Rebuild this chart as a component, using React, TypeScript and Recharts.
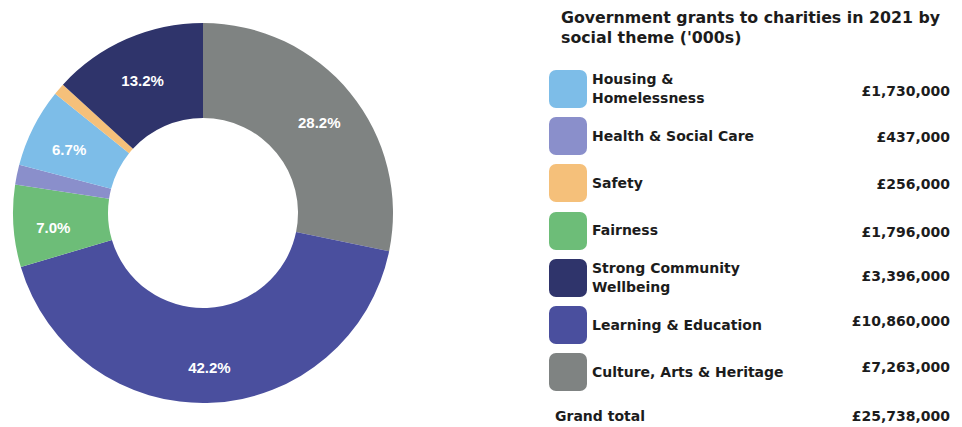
import React from "react";
import { PieChart, Pie, Cell } from "recharts";

// legend order, as listed on the right
const themes = [
  "Housing & Homelessness",
  "Health & Social Care",
  "Safety",
  "Fairness",
  "Strong Community Wellbeing",
  "Learning & Education",
  "Culture, Arts & Heritage",
];
const legendLines = [
  ["Housing &", "Homelessness"],
  ["Health & Social Care"],
  ["Safety"],
  ["Fairness"],
  ["Strong Community", "Wellbeing"],
  ["Learning & Education"],
  ["Culture, Arts & Heritage"],
];
const grants = [1730000, 437000, 256000, 1796000, 3396000, 10860000, 7263000];
const colors = ["#7dbde8", "#8a8fcb", "#f5c07a", "#6dbd78", "#2f346b", "#4a4f9e", "#7f8382"];

// clockwise from 12 o'clock in the doughnut
const pieOrder = [6, 5, 3, 1, 0, 2, 4];

const title = ["Government grants to charities in 2021 by", "social theme ('000s)"];
const totalLabel = "Grand total";

const fmt = (v: number) => "£" + v.toLocaleString("en-GB");
const total = grants.reduce((a, b) => a + b, 0);

const pieData = pieOrder.map((i) => ({ name: themes[i], value: grants[i], color: colors[i] }));

const RAD = Math.PI / 180;
const renderLabel = (p: any) => {
  const pct = p.value / total;
  if (pct < 0.05) return null;
  const r = 150;
  const x = p.cx + r * Math.cos(-p.midAngle * RAD);
  const y = p.cy + r * Math.sin(-p.midAngle * RAD);
  return (
    <text
      x={x}
      y={y + 6}
      fill="#ffffff"
      textAnchor="middle"
      dominantBaseline="middle"
      fontFamily="Liberation Sans, Arial, sans-serif"
      fontWeight={700}
      fontSize={15}
    >
      {(pct * 100).toFixed(1) + "%"}
    </text>
  );
};

const legendFont = "'DejaVu Sans', sans-serif";
const textColor = "#1c1c1c";
const valueShift = [2, 1, 1, 1, -2, -4, -5];

export default function App() {
  return (
    <div style={{ position: "absolute", left: 0, top: 0, width: 962, height: 427, background: "#fff" }}>
      <div style={{ position: "absolute", left: 0, top: 0 }}>
        <PieChart width={962} height={427} margin={{ top: 0, right: 0, bottom: 0, left: 0 }}>
          <Pie
            data={pieData}
            dataKey="value"
            nameKey="name"
            cx={203}
            cy={213}
            innerRadius={95}
            outerRadius={190}
            startAngle={90}
            endAngle={-270}
            stroke="none"
            label={renderLabel}
            labelLine={false}
            isAnimationActive={false}
          >
            {pieData.map((d) => (
              <Cell key={d.name} fill={d.color} />
            ))}
          </Pie>
        </PieChart>
      </div>

      <div
        style={{
          position: "absolute",
          left: 561,
          top: 8,
          fontFamily: legendFont,
          fontWeight: 700,
          fontSize: 15.8,
          lineHeight: "20px",
          color: textColor,
          whiteSpace: "nowrap",
        }}
      >
        {title.map((t) => (
          <div key={t}>{t}</div>
        ))}
      </div>

      {themes.map((t, i) => {
        const top = 70 + i * 47.2;
        return (
          <div key={t} style={{ position: "absolute", left: 0, top, width: 962, height: 38 }}>
            <div
              style={{
                position: "absolute",
                left: 549,
                top: 0,
                width: 38,
                height: 38,
                borderRadius: 7,
                background: colors[i],
              }}
            />
            <div
              style={{
                position: "absolute",
                left: 592,
                top: 0,
                height: 38,
                display: "flex",
                flexDirection: "column",
                justifyContent: "center",
                fontFamily: legendFont,
                fontWeight: 700,
                fontSize: 14,
                lineHeight: "19px",
                color: textColor,
                whiteSpace: "nowrap",
              }}
            >
              {legendLines[i].map((l) => (
                <div key={l}>{l}</div>
              ))}
            </div>
            <div
              style={{
                position: "absolute",
                right: 962 - 950,
                top: valueShift[i],
                height: 38,
                display: "flex",
                alignItems: "center",
                fontFamily: legendFont,
                fontWeight: 700,
                fontSize: 14,
                color: textColor,
                whiteSpace: "nowrap",
              }}
            >
              {fmt(grants[i])}
            </div>
          </div>
        );
      })}

      <div
        style={{
          position: "absolute",
          left: 555,
          top: 407,
          fontFamily: legendFont,
          fontWeight: 700,
          fontSize: 14,
          lineHeight: "19px",
          color: textColor,
        }}
      >
        {totalLabel}
      </div>
      <div
        style={{
          position: "absolute",
          right: 962 - 950,
          top: 407,
          fontFamily: legendFont,
          fontWeight: 700,
          fontSize: 14,
          lineHeight: "19px",
          color: textColor,
        }}
      >
        {fmt(total)}
      </div>
    </div>
  );
}
